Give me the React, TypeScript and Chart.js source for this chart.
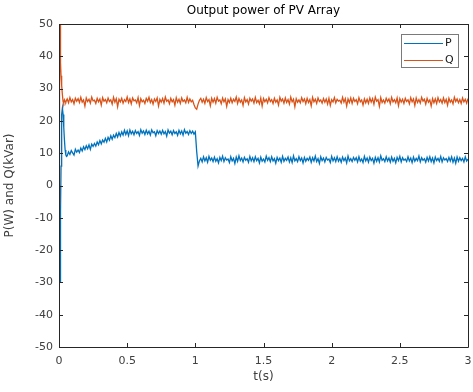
import React, { useEffect, useRef } from "react";
import { Chart, registerables } from "chart.js";

Chart.register(...registerables);

// ---- Data ----
const titleText = "Output power of PV Array";
const xLabel = "t(s)";
const yLabel = "P(W) and Q(kVar)";
const seriesNames = ["P", "Q"];

// start-up transient (0 .. 0.055 s)
const timeStart = [0, 0.002, 0.004, 0.006, 0.008, 0.01, 0.012, 0.015, 0.018, 0.021, 0.025, 0.03, 0.035, 0.04, 0.045, 0.05, 0.055];
const pStart = [0, -5, -14, -24, -30, -22, -8, 6, 16, 22, 24, 22, 18, 14, 11, 9.5, 9];
const qStart = [0, -6, 20, 55, 60, 50, 38, 34, 33, 31, 28, 26, 25.5, 26.5, 26, 25.8, 26.4];

// sampled run (0.06 .. 3.00 s)
const timeRun = [
  0.06, 0.07, 0.08, 0.09, 0.10, 0.11, 0.12, 0.13, 0.14, 0.15,
  0.16, 0.17, 0.18, 0.19, 0.20, 0.21, 0.22, 0.23, 0.24, 0.25,
  0.26, 0.27, 0.28, 0.29, 0.30, 0.31, 0.32, 0.33, 0.34, 0.35,
  0.36, 0.37, 0.38, 0.39, 0.40, 0.41, 0.42, 0.43, 0.44, 0.45,
  0.46, 0.47, 0.48, 0.49, 0.50, 0.51, 0.52, 0.53, 0.54, 0.55,
  0.56, 0.57, 0.58, 0.59, 0.60, 0.61, 0.62, 0.63, 0.64, 0.65,
  0.66, 0.67, 0.68, 0.69, 0.70, 0.71, 0.72, 0.73, 0.74, 0.75,
  0.76, 0.77, 0.78, 0.79, 0.80, 0.81, 0.82, 0.83, 0.84, 0.85,
  0.86, 0.87, 0.88, 0.89, 0.90, 0.91, 0.92, 0.93, 0.94, 0.95,
  0.96, 0.97, 0.98, 0.99, 1.00, 1.01, 1.02, 1.03, 1.04, 1.05,
  1.06, 1.07, 1.08, 1.09, 1.10, 1.11, 1.12, 1.13, 1.14, 1.15,
  1.16, 1.17, 1.18, 1.19, 1.20, 1.21, 1.22, 1.23, 1.24, 1.25,
  1.26, 1.27, 1.28, 1.29, 1.30, 1.31, 1.32, 1.33, 1.34, 1.35,
  1.36, 1.37, 1.38, 1.39, 1.40, 1.41, 1.42, 1.43, 1.44, 1.45,
  1.46, 1.47, 1.48, 1.49, 1.50, 1.51, 1.52, 1.53, 1.54, 1.55,
  1.56, 1.57, 1.58, 1.59, 1.60, 1.61, 1.62, 1.63, 1.64, 1.65,
  1.66, 1.67, 1.68, 1.69, 1.70, 1.71, 1.72, 1.73, 1.74, 1.75,
  1.76, 1.77, 1.78, 1.79, 1.80, 1.81, 1.82, 1.83, 1.84, 1.85,
  1.86, 1.87, 1.88, 1.89, 1.90, 1.91, 1.92, 1.93, 1.94, 1.95,
  1.96, 1.97, 1.98, 1.99, 2.00, 2.01, 2.02, 2.03, 2.04, 2.05,
  2.06, 2.07, 2.08, 2.09, 2.10, 2.11, 2.12, 2.13, 2.14, 2.15,
  2.16, 2.17, 2.18, 2.19, 2.20, 2.21, 2.22, 2.23, 2.24, 2.25,
  2.26, 2.27, 2.28, 2.29, 2.30, 2.31, 2.32, 2.33, 2.34, 2.35,
  2.36, 2.37, 2.38, 2.39, 2.40, 2.41, 2.42, 2.43, 2.44, 2.45,
  2.46, 2.47, 2.48, 2.49, 2.50, 2.51, 2.52, 2.53, 2.54, 2.55,
  2.56, 2.57, 2.58, 2.59, 2.60, 2.61, 2.62, 2.63, 2.64, 2.65,
  2.66, 2.67, 2.68, 2.69, 2.70, 2.71, 2.72, 2.73, 2.74, 2.75,
  2.76, 2.77, 2.78, 2.79, 2.80, 2.81, 2.82, 2.83, 2.84, 2.85,
  2.86, 2.87, 2.88, 2.89, 2.90, 2.91, 2.92, 2.93, 2.94, 2.95,
  2.96, 2.97, 2.98, 2.99, 3.00,
];

const pRun = [
  9.2, 10.4, 9.6, 10.8, 10.1, 9.4, 11.2, 10.3, 11.0, 10.2,
  11.6, 10.7, 12.0, 11.1, 12.3, 11.4, 12.6, 11.2, 12.8, 12.1,
  13.0, 12.2, 13.5, 12.6, 13.9, 12.9, 14.1, 13.4, 14.6, 13.5,
  14.9, 14.0, 15.4, 14.3, 15.6, 14.8, 16.1, 15.0, 16.4, 15.3,
  16.6, 15.6, 17.1, 15.8, 16.9, 15.4, 17.2, 16.0, 16.8, 15.7,
  17.0, 16.1, 16.7, 15.5, 17.3, 16.2, 16.9, 15.8, 17.1, 16.0,
  16.8, 15.6, 17.2, 16.3, 16.6, 15.4, 17.0, 16.1, 16.9, 15.9,
  17.1, 16.0, 16.7, 15.3, 17.2, 16.2, 16.8, 15.7, 17.0, 16.1,
  16.6, 15.5, 17.1, 16.0, 16.9, 15.6, 17.3, 16.2, 16.7, 15.8,
  17.0, 16.1, 16.8, 15.9, 16.6, 10.5, 6.0, 7.6,
  8.4, 7.3, 8.9, 7.6, 8.6, 7.2, 9.0, 7.8, 8.5, 7.4,
  8.8, 7.5, 8.3, 7.0, 8.7, 7.7, 9.1, 7.4, 8.6, 7.9,
  8.2, 7.1, 8.9, 7.6, 8.4, 6.8, 8.8, 7.5, 9.2, 7.7,
  8.5, 7.3, 8.7, 7.8, 8.3, 7.2, 9.0, 7.6, 8.6, 7.4,
  8.9, 7.7, 8.4, 7.0, 8.8, 7.5, 8.2, 7.3, 9.1, 7.8,
  8.6, 7.4, 8.9, 7.6, 8.3, 6.9, 8.7, 7.7, 8.5, 7.2,
  9.0, 7.5, 8.4, 7.8, 8.8, 7.3, 8.6, 7.1, 9.2, 7.6,
  8.3, 7.4, 8.9, 7.7, 8.5, 7.0, 8.7, 7.5, 8.4, 7.8,
  8.8, 7.2, 8.6, 7.6, 9.1, 7.4, 8.3, 6.8, 8.9, 7.7,
  8.5, 7.3, 8.7, 7.9, 8.2, 7.1, 9.0, 7.6, 8.6, 7.4,
  8.9, 7.5, 8.4, 7.2, 8.8, 7.7, 8.5, 7.0, 9.1, 7.6,
  8.3, 7.4, 8.7, 7.8, 8.6, 7.3, 8.9, 7.5, 8.2, 7.1,
  9.0, 7.6, 8.5, 7.2, 8.8, 7.7, 8.4, 6.9, 8.7, 7.5,
  8.6, 7.3, 9.2, 7.8, 8.3, 7.4, 8.9, 7.6, 8.5, 7.2,
  8.8, 7.5, 8.4, 7.0, 8.7, 7.7, 9.0, 7.3, 8.6, 7.8,
  8.2, 7.4, 8.9, 7.6, 8.5, 7.1, 8.8, 7.5, 8.4, 7.7,
  9.1, 7.3, 8.6, 7.8, 8.3, 7.2, 8.7, 7.6, 8.9, 7.4,
  8.5, 7.0, 8.8, 7.7, 8.4, 7.5, 9.0, 7.3, 8.6, 7.9,
  8.3, 7.4, 8.7, 7.6, 8.9, 7.2, 8.5, 6.9, 8.8, 7.5,
  8.6, 7.7, 8.4, 7.3, 8.9, 7.6, 8.2,
];

const qRun = [
  26.8, 25.6, 27.2, 25.9, 26.6, 25.3, 27.0, 26.1, 26.9, 25.7,
  27.3, 25.8, 26.5, 24.6, 27.1, 26.0, 26.7, 25.5, 27.4, 26.2,
  26.4, 25.4, 27.0, 25.9, 26.8, 24.9, 27.2, 26.1, 26.6, 25.6,
  27.1, 26.0, 26.5, 25.2, 27.3, 25.8, 26.9, 24.4, 26.7, 25.9,
  27.0, 25.5, 26.6, 26.0, 27.4, 25.7, 26.8, 25.3, 27.1, 26.2,
  26.5, 25.6, 27.2, 24.8, 26.9, 25.9, 26.4, 25.4, 27.0, 26.1,
  27.3, 25.7, 26.6, 25.2, 26.8, 26.0, 27.1, 24.6, 26.7, 25.8,
  26.9, 25.5, 27.4, 26.1, 26.5, 25.3, 27.0, 25.9, 26.6, 24.9,
  27.2, 25.8, 26.7, 25.4, 27.1, 26.0, 26.5, 25.6, 27.3, 25.7,
  26.8, 25.9, 26.4, 25.1, 24.0, 23.6, 25.2, 26.4, 27.0, 25.8,
  26.7, 25.4, 27.2, 26.0, 26.6, 24.7, 27.0, 25.8, 26.9, 25.5,
  27.3, 26.1, 26.5, 25.3, 27.1, 25.9, 26.8, 24.5, 26.6, 25.7,
  27.0, 25.6, 26.7, 26.0, 27.4, 25.4, 26.9, 25.8, 26.5, 24.8,
  27.2, 25.9, 26.6, 25.2, 27.0, 26.1, 26.8, 25.5, 27.3, 25.7,
  26.4, 25.3, 27.1, 24.6, 26.9, 25.9, 26.7, 25.6, 27.2, 26.0,
  26.6, 25.4, 27.0, 25.8, 26.5, 24.9, 27.3, 26.1, 26.8, 25.5,
  27.1, 25.7, 26.6, 25.2, 27.4, 25.9, 26.7, 24.4, 26.9, 25.8,
  26.5, 25.6, 27.2, 26.0, 26.8, 25.3, 27.0, 25.7, 26.6, 24.7,
  27.3, 25.9, 26.7, 25.4, 27.1, 26.0, 26.5, 25.5, 26.9, 25.8,
  26.8, 25.2, 27.0, 24.8, 26.6, 25.9, 27.2, 25.6, 26.7, 26.1,
  26.4, 25.5, 27.3, 25.8, 26.9, 24.6, 26.8, 25.7, 27.1, 25.4,
  27.0, 26.0, 26.6, 25.3, 27.2, 25.9, 26.5, 24.9, 26.8, 25.6,
  26.7, 25.4, 27.1, 25.8, 26.9, 25.2, 27.4, 26.1, 26.6, 24.5,
  27.2, 25.7, 26.5, 25.5, 27.0, 26.0, 26.8, 25.3, 27.3, 25.9,
  26.6, 25.6, 27.1, 24.7, 26.9, 25.8, 26.7, 25.4, 27.0, 26.0,
  26.5, 25.3, 27.2, 25.9, 26.8, 24.8, 27.1, 25.7, 26.6, 25.5,
  27.3, 26.1, 26.7, 25.2, 27.0, 25.8, 26.5, 24.6, 26.9, 25.6,
  26.8, 25.4, 27.2, 25.9, 26.6, 25.5, 27.1, 25.7, 26.7, 24.9,
  27.0, 25.8, 26.5, 25.3, 27.3, 26.0, 26.8, 25.6, 26.6, 25.4,
  27.1, 25.9, 26.7, 25.5, 26.9,
];

const xMin = 0, xMax = 3, xStep = 0.5;
const yMin = -50, yMax = 50, yStep = 10;

const colorP = "#0072BD";
const colorQ = "#D95319";
const axisColor = "#262626";
const textColor = "#404040";
const fontFamily = "'DejaVu Sans', Verdana, sans-serif";

const fmtTick = (v: any) => String(Math.round(Number(v) * 100) / 100);

const boxPlugin = {
  id: "matlabBox",
  afterDatasetsDraw(chart: any) {
    const { ctx, chartArea } = chart;
    const { left, right, top, bottom } = chartArea;
    const xs = chart.scales.x;
    const ys = chart.scales.y;
    const tl = 4;
    ctx.save();

    // title centred over the axes
    ctx.fillStyle = "#000000";
    ctx.font = `12px ${fontFamily}`;
    ctx.textAlign = "center";
    ctx.textBaseline = "middle";
    ctx.fillText(titleText, (left + right) / 2, 11);

    ctx.strokeStyle = axisColor;
    ctx.lineWidth = 1;
    ctx.beginPath();
    ctx.rect(Math.round(left) + 0.5, Math.round(top) + 0.5, Math.round(right - left), Math.round(bottom - top));
    ctx.stroke();
    ctx.beginPath();
    xs.ticks.forEach((t: any) => {
      const px = Math.round(xs.getPixelForValue(t.value)) + 0.5;
      ctx.moveTo(px, bottom);
      ctx.lineTo(px, bottom - tl);
      ctx.moveTo(px, top);
      ctx.lineTo(px, top + tl);
    });
    ys.ticks.forEach((t: any) => {
      const py = Math.round(ys.getPixelForValue(t.value)) + 0.5;
      ctx.moveTo(left, py);
      ctx.lineTo(left + tl, py);
      ctx.moveTo(right, py);
      ctx.lineTo(right - tl, py);
    });
    ctx.stroke();

    // legend box (top-right, inside axes)
    const bw = 57, bh = 33;
    const bx = Math.round(right) - 10 - bw;
    const by = Math.round(top) + 10;
    ctx.fillStyle = "#ffffff";
    ctx.fillRect(bx, by, bw, bh);
    ctx.strokeStyle = "#7a7a7a";
    ctx.strokeRect(bx + 0.5, by + 0.5, bw, bh);
    ctx.font = `11px ${fontFamily}`;
    ctx.textBaseline = "middle";
    ctx.textAlign = "left";
    const order = [1, 0];
    order.forEach((di, i) => {
      const ds = chart.data.datasets[di];
      const ly = by + 9 + i * 16.5;
      ctx.strokeStyle = ds.borderColor;
      ctx.lineWidth = 1;
      ctx.beginPath();
      ctx.moveTo(bx + 3, Math.round(ly) + 0.5);
      ctx.lineTo(bx + 42, Math.round(ly) + 0.5);
      ctx.stroke();
      ctx.fillStyle = "#1a1a1a";
      ctx.fillText(ds.label, bx + 44, ly + 0.5);
    });
    ctx.restore();
  },
};

export default function App() {
  const ref = useRef<HTMLCanvasElement | null>(null);
  useEffect(() => {
    if (!ref.current) return;
    const times = [...timeStart, ...timeRun];
    const pVals = [...pStart, ...pRun];
    const qVals = [...qStart, ...qRun];
    const chart = new Chart(ref.current, {
      type: "line",
      data: {
        datasets: [
          {
            label: seriesNames[1],
            data: times.map((t, i) => ({ x: t, y: qVals[i] })),
            borderColor: colorQ,
            borderWidth: 1.3,
            pointRadius: 0,
            tension: 0,
            order: 1,
          },
          {
            label: seriesNames[0],
            data: times.map((t, i) => ({ x: t, y: pVals[i] })),
            borderColor: colorP,
            borderWidth: 1.3,
            pointRadius: 0,
            tension: 0,
            order: 2,
          },
        ],
      },
      options: {
        animation: false,
        responsive: false,
        events: [],
        layout: { padding: { left: 0, right: 5, top: 24, bottom: 0 } },
        plugins: {
          legend: { display: false },
          tooltip: { enabled: false },
          title: { display: false },
        },
        scales: {
          x: {
            type: "linear",
            min: xMin,
            max: xMax,
            afterFit: (s: any) => {
              s.height = 45;
              s.paddingLeft = 0;
              s.paddingRight = 0;
            },
            grid: { display: false, drawTicks: false },
            border: { display: false },
            ticks: {
              stepSize: xStep,
              autoSkip: false,
              maxRotation: 0,
              padding: 8,
              color: textColor,
              font: { family: fontFamily, size: 11 },
              callback: fmtTick,
            },
            title: {
              display: true,
              text: xLabel,
              color: textColor,
              font: { family: fontFamily, size: 12 },
              padding: { top: 0, bottom: 8 },
            },
          },
          y: {
            type: "linear",
            min: yMin,
            max: yMax,
            afterFit: (s: any) => {
              s.width = 59;
              s.paddingTop = 0;
              s.paddingBottom = 0;
            },
            grid: { display: false, drawTicks: false },
            border: { display: false },
            ticks: {
              stepSize: yStep,
              autoSkip: false,
              padding: 6,
              color: textColor,
              font: { family: fontFamily, size: 11 },
              callback: fmtTick,
            },
            title: {
              display: true,
              text: yLabel,
              color: textColor,
              font: { family: fontFamily, size: 12 },
              padding: { top: 3, bottom: 0 },
            },
          },
        },
      },
      plugins: [boxPlugin],
    });
    return () => chart.destroy();
  }, []);
  return (
    <div style={{ position: "fixed", left: 0, top: 0, width: 473, height: 392, background: "#fff" }}>
      <canvas ref={ref} width={473} height={392} style={{ width: 473, height: 392 }} />
    </div>
  );
}
